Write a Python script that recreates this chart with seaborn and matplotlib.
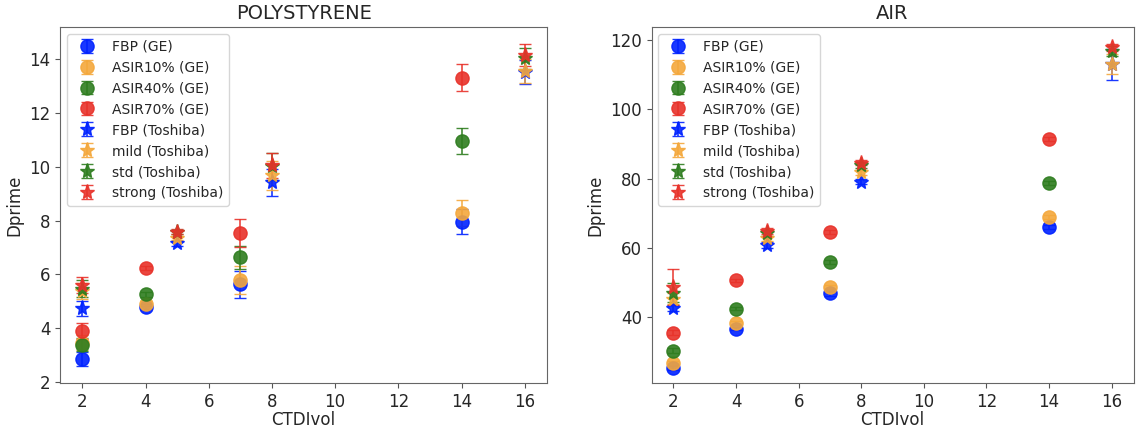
import numpy as np
import matplotlib
matplotlib.use("Agg")
import matplotlib.pyplot as plt
import seaborn as sns

# ---------------- data ----------------
ge_x = [2, 4, 7, 14]
tosh_x = [2, 5, 8, 16]

ge_labels = ["FBP (GE)", "ASIR10% (GE)", "ASIR40% (GE)", "ASIR70% (GE)"]
tosh_labels = ["FBP (Toshiba)", "mild (Toshiba)", "std (Toshiba)", "strong (Toshiba)"]

# POLYSTYRENE
poly_ge_fbp = [2.85, 4.80, 5.63, 7.96]
poly_ge_asir10 = [3.45, 4.91, 5.78, 8.28]
poly_ge_asir40 = [3.38, 5.25, 6.63, 10.96]
poly_ge_asir70 = [3.90, 6.22, 7.52, 13.31]
poly_ge_err_fbp = [0.25, 0.08, 0.50, 0.48]
poly_ge_err_asir10 = [0.28, 0.08, 0.52, 0.50]
poly_ge_err_asir40 = [0.25, 0.08, 0.44, 0.50]
poly_ge_err_asir70 = [0.30, 0.08, 0.52, 0.50]

poly_t_fbp = [4.73, 7.15, 9.43, 13.53]
poly_t_mild = [5.38, 7.36, 9.68, 13.56]
poly_t_std = [5.47, 7.57, 10.01, 14.03]
poly_t_strong = [5.59, 7.59, 10.05, 14.15]
poly_t_err_fbp = [0.27, 0.08, 0.50, 0.46]
poly_t_err_mild = [0.30, 0.08, 0.54, 0.45]
poly_t_err_std = [0.30, 0.08, 0.50, 0.40]
poly_t_err_strong = [0.30, 0.08, 0.47, 0.41]

# AIR
air_ge_fbp = [25.2, 36.6, 46.8, 66.1]
air_ge_asir10 = [26.7, 38.3, 48.7, 69.0]
air_ge_asir40 = [30.3, 42.4, 55.9, 78.7]
air_ge_asir70 = [35.5, 50.6, 64.5, 91.5]
air_ge_err_fbp = [0.6, 0.5, 0.6, 0.6]
air_ge_err_asir10 = [0.6, 0.5, 0.6, 0.6]
air_ge_err_asir40 = [0.6, 0.5, 0.6, 0.6]
air_ge_err_asir70 = [0.6, 0.5, 0.6, 0.6]

air_t_fbp = [42.6, 60.8, 79.1, 113.0]
air_t_mild = [45.3, 62.7, 81.8, 113.1]
air_t_std = [47.0, 64.2, 84.0, 116.8]
air_t_strong = [48.7, 64.9, 84.6, 118.0]
air_t_err_fbp = [1.0, 0.8, 0.8, 4.4]
air_t_err_mild = [1.5, 0.8, 0.8, 3.0]
air_t_err_std = [2.7, 0.8, 0.8, 1.5]
air_t_err_strong = [5.1, 0.8, 0.8, 1.0]

colors = ["#0022ff", "#f4a83c", "#2e7d1f", "#e8322a"]

panels = [
    ("POLYSTYRENE",
     [poly_ge_fbp, poly_ge_asir10, poly_ge_asir40, poly_ge_asir70],
     [poly_ge_err_fbp, poly_ge_err_asir10, poly_ge_err_asir40, poly_ge_err_asir70],
     [poly_t_fbp, poly_t_mild, poly_t_std, poly_t_strong],
     [poly_t_err_fbp, poly_t_err_mild, poly_t_err_std, poly_t_err_strong],
     (1.95, 15.2)),
    ("AIR",
     [air_ge_fbp, air_ge_asir10, air_ge_asir40, air_ge_asir70],
     [air_ge_err_fbp, air_ge_err_asir10, air_ge_err_asir40, air_ge_err_asir70],
     [air_t_fbp, air_t_mild, air_t_std, air_t_strong],
     [air_t_err_fbp, air_t_err_mild, air_t_err_std, air_t_err_strong],
     (20.9, 123.8)),
]

# ---------------- plot ----------------
sns.set_style("ticks")
plt.rcParams["font.family"] = ["DejaVu Sans"]

fig = plt.figure(figsize=(11.37, 4.29), dpi=100)
ax_pos = [[0.053, 0.107, 0.428, 0.830], [0.573, 0.107, 0.424, 0.830]]

for pos, (title, ge_vals, ge_errs, t_vals, t_errs, ylim) in zip(ax_pos, panels):
    ax = fig.add_axes(pos)
    for vals, errs, lab, c in zip(ge_vals, ge_errs, ge_labels, colors):
        ax.errorbar(ge_x, vals, yerr=errs, fmt="o", color=c, ms=9.5,
                    capsize=4, elinewidth=1.2, ecolor=c, alpha=0.9,
                    label=lab, zorder=3)
    for vals, errs, lab, c in zip(t_vals, t_errs, tosh_labels, colors):
        ax.errorbar(tosh_x, vals, yerr=errs, fmt="*", color=c, ms=11,
                    capsize=4, elinewidth=1.2, ecolor=c, alpha=0.9,
                    label=lab, zorder=3)
    ax.set_ylim(*ylim)
    ax.set_xlim(1.3, 16.7)
    ax.set_title(title, fontsize=14)
    ax.set_xlabel("CTDIvol", fontsize=12, labelpad=0)
    ax.set_ylabel("Dprime", fontsize=12)
    ax.tick_params(labelsize=12, length=3.5, pad=3.5, color="#555555")
    for sp in ax.spines.values():
        sp.set_color("#666666")
    ax.set_xticks([2, 4, 6, 8, 10, 12, 14, 16])
    ax.legend(loc="upper left", fontsize=10, frameon=True, framealpha=0.8,
              edgecolor="#cccccc", borderaxespad=0.5)

fig.savefig("out.png", dpi=100)
